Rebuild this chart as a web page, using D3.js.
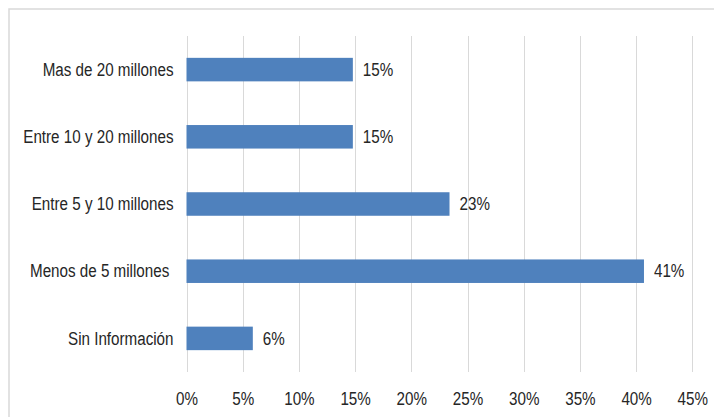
<!DOCTYPE html>
<html>
<head>
<meta charset="utf-8">
<script src="https://cdn.jsdelivr.net/npm/d3@7"></script>
<style>
  html, body { margin: 0; padding: 0; background: #fff; }
  svg { display: block; font-family: "Liberation Sans", Arial, sans-serif; }
  text { white-space: pre; }
</style>
</head>
<body>
<svg id="chart" width="714" height="417"></svg>
<script>
const categories = ["Mas de 20 millones", "Entre 10 y 20 millones", "Entre 5 y 10 millones", "Menos de 5 millones ", "Sin Información"];
const values = [0.148, 0.148, 0.234, 0.407, 0.059];
const xTicks = [0, 0.05, 0.10, 0.15, 0.20, 0.25, 0.30, 0.35, 0.40, 0.45];

(function () {
const svg = d3.select("#chart");
const W = 714, H = 417;
const mLeft = 186.5, mRight = 692.3, mTop = 36, mBottom = 372;
const sx = 0.8; // horizontal compression of the text
const fs = 19;

// frame
svg.append("rect").attr("x", 9).attr("y", 9).attr("width", W + 20).attr("height", H + 20)
  .attr("fill", "#fff").attr("stroke", "#d9d9d9").attr("stroke-width", 1.5);

const x = d3.scaleLinear().domain([0, 0.45]).range([mLeft, mRight]);
const y = d3.scaleBand().domain(categories).range([mTop, mBottom]).paddingInner(0.65).paddingOuter(0.325);

// gridlines
svg.append("g").selectAll("line").data(xTicks).join("line")
  .attr("x1", d => Math.round(x(d)) + 0.5).attr("x2", d => Math.round(x(d)) + 0.5)
  .attr("y1", mTop).attr("y2", mBottom)
  .attr("stroke", "#d9d9d9").attr("stroke-width", 1);

// bars
svg.append("g").selectAll("rect").data(categories).join("rect")
  .attr("x", x(0)).attr("y", d => y(d))
  .attr("width", (d, i) => x(values[i]) - x(0))
  .attr("height", y.bandwidth())
  .attr("fill", "#4f81bd");

// data labels
const fmt = d3.format(".0%");
svg.append("g").selectAll("text").data(categories).join("text")
  .attr("transform", (d, i) => `translate(${x(values[i]) + 10},${y(d) + y.bandwidth() / 2}) scale(${sx},1)`)
  .attr("dy", "0.33em")
  .attr("font-size", fs).attr("fill", "#262626")
  .text((d, i) => fmt(values[i]));

// y axis
const yAxis = svg.append("g").attr("transform", `translate(${mLeft},0)`)
  .call(d3.axisLeft(y).tickSize(0).tickPadding(0));
yAxis.select(".domain").remove();
yAxis.selectAll("text")
  .attr("x", -13 / sx).attr("dy", "0.33em")
  .attr("transform", `scale(${sx},1)`)
  .attr("font-size", fs).attr("font-family", "Liberation Sans, Arial, sans-serif")
  .attr("fill", "#262626");

// x axis
const xAxis = svg.append("g").attr("transform", `translate(0,${mBottom})`)
  .call(d3.axisBottom(x).tickValues(xTicks).tickFormat(d3.format(".0%")).tickSize(0).tickPadding(0));
xAxis.select(".domain").remove();
xAxis.selectAll("text")
  .attr("y", 33).attr("dy", 0)
  .attr("transform", `scale(${sx},1)`)
  .attr("font-size", fs).attr("font-family", "Liberation Sans, Arial, sans-serif")
  .attr("fill", "#262626");
})();
</script>
</body>
</html>
